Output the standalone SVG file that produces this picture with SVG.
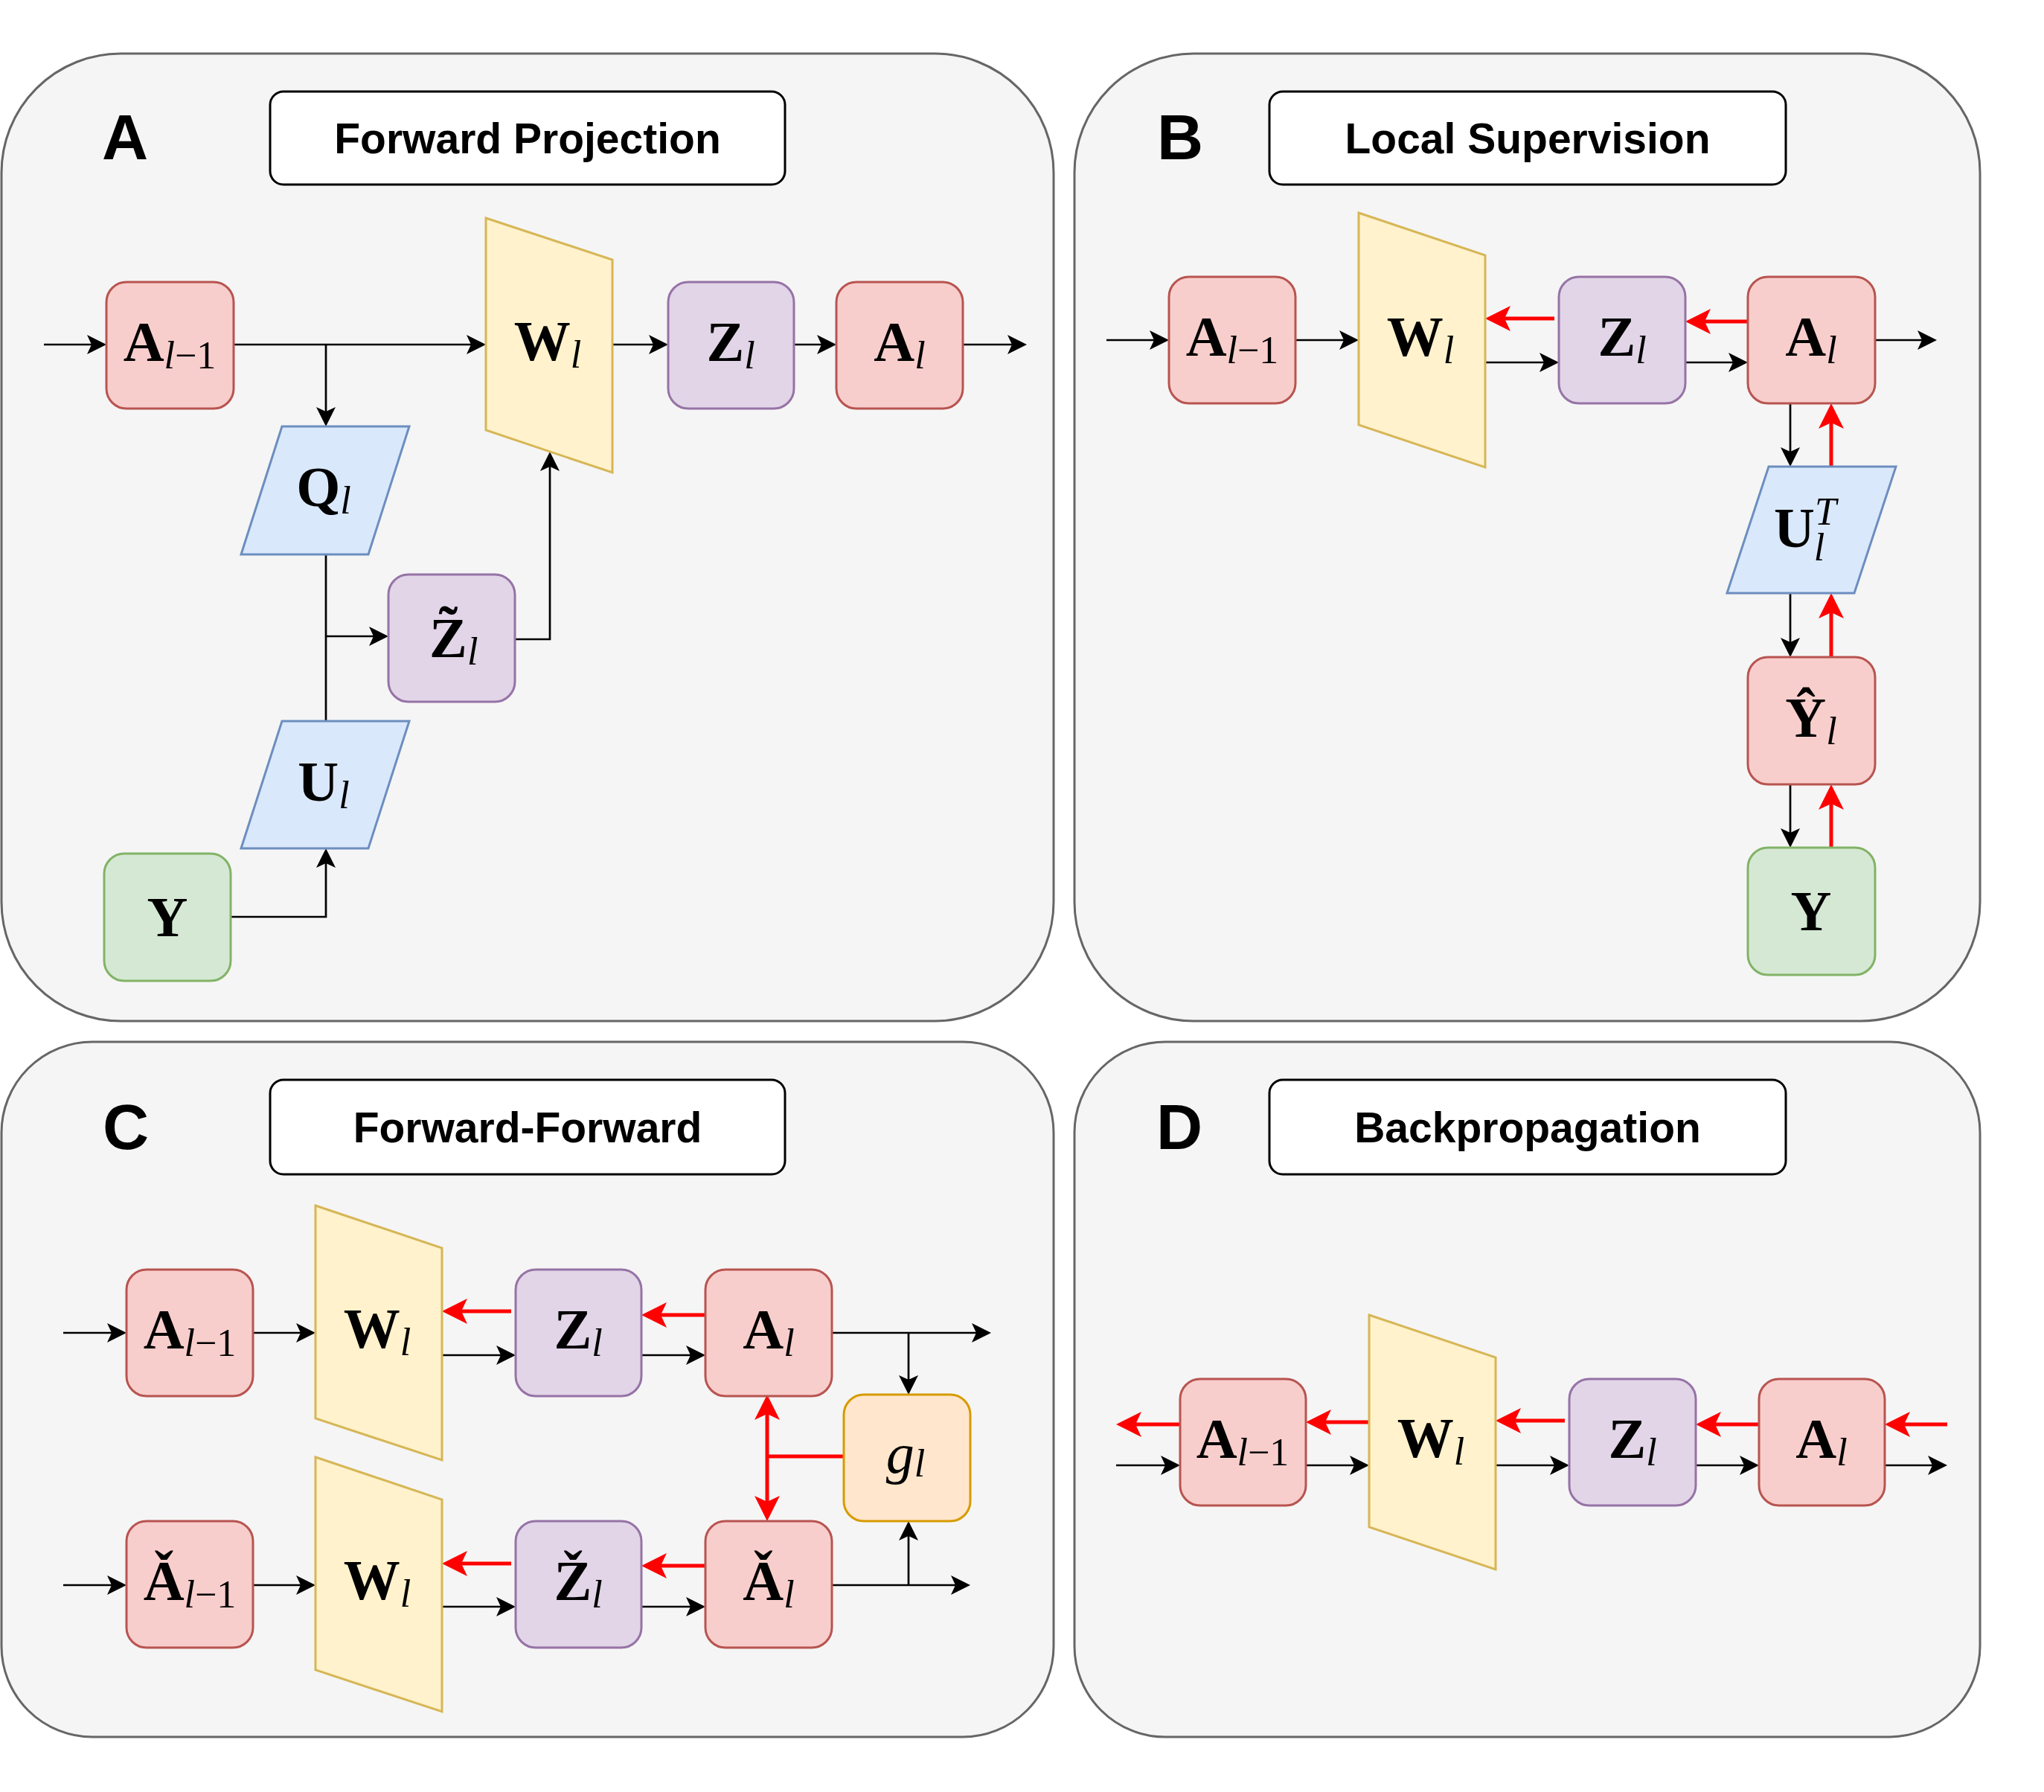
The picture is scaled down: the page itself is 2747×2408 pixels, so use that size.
<svg xmlns="http://www.w3.org/2000/svg" width="2747" height="2408" viewBox="0 0 2747 2408">
<style>
.panel{fill:#f5f5f5;stroke:#666666;stroke-width:3}
.title{fill:#ffffff;stroke:#000000;stroke-width:3}
.tt{font-family:"Liberation Sans",Arial,sans-serif;font-weight:bold;font-size:57px;text-anchor:middle;fill:#000}
.lab{font-family:"Liberation Sans",Arial,sans-serif;font-weight:bold;font-size:86px;text-anchor:middle;fill:#000}
.red{fill:#f8cecc;stroke:#b85450;stroke-width:3}
.pur{fill:#e1d5e7;stroke:#9673a6;stroke-width:3}
.grn{fill:#d5e8d4;stroke:#82b366;stroke-width:3}
.yel{fill:#fff2cc;stroke:#d6b656;stroke-width:3}
.blu{fill:#dae8fc;stroke:#6c8ebf;stroke-width:3}
.org{fill:#ffe6cc;stroke:#d79b00;stroke-width:3}
.m{font-family:"Liberation Serif","DejaVu Serif",serif;font-weight:bold;font-size:76px;text-anchor:middle;fill:#000}
.ms{font-family:"Liberation Serif","DejaVu Serif",serif;font-weight:bold;font-size:76px;fill:#000}
.s{font-style:italic;font-weight:normal;font-size:52px}
.r{font-style:normal;font-weight:normal;font-size:52px}
.it{font-family:"Liberation Serif","DejaVu Serif",serif;font-style:italic;font-size:76px;text-anchor:middle;fill:#000}
.b{fill:none;stroke:#000;stroke-width:2.7;marker-end:url(#ab)}
.bl{fill:none;stroke:#000;stroke-width:2.7}
.rd{fill:none;stroke:#ff0000;stroke-width:5;marker-end:url(#ar)}
.rl{fill:none;stroke:#ff0000;stroke-width:5}
</style>
<defs>
<marker id="ab" markerUnits="userSpaceOnUse" viewBox="-10 -20 40 40" refX="0" refY="0" markerWidth="40" markerHeight="40" orient="auto">
<path d="M0,0 L-6,-13 L20,0 L-6,13 Z" fill="#000"/>
</marker>
<marker id="ar" markerUnits="userSpaceOnUse" viewBox="-10 -20 40 40" refX="0" refY="0" markerWidth="40" markerHeight="40" orient="auto-start-reverse">
<path d="M0,0 L-8,-17 L26,0 L-8,17 Z" fill="#ff0000"/>
</marker>
</defs>

<!-- Panels -->
<g id="panel-A">
<rect class="panel" x="2" y="72" width="1414" height="1300" rx="160"/>
<text class="lab" x="168" y="214">A</text>
<rect class="title" x="363" y="123" width="692" height="125" rx="18"/>
<text class="tt" x="709" y="206">Forward Projection</text>
</g>
<g id="panel-B">
<rect class="panel" x="1444" y="72" width="1217" height="1300" rx="160"/>
<text class="lab" x="1586" y="214">B</text>
<rect class="title" x="1706" y="123" width="694" height="125" rx="18"/>
<text class="tt" x="2053" y="206">Local Supervision</text>
</g>
<g id="panel-C">
<rect class="panel" x="2" y="1400" width="1414" height="934" rx="122"/>
<text class="lab" x="169" y="1544">C</text>
<rect class="title" x="363" y="1451" width="692" height="127" rx="18"/>
<text class="tt" x="709" y="1535">Forward-Forward</text>
</g>
<g id="panel-D">
<rect class="panel" x="1444" y="1400" width="1217" height="934" rx="122"/>
<text class="lab" x="1585" y="1544">D</text>
<rect class="title" x="1706" y="1451" width="694" height="127" rx="18"/>
<text class="tt" x="2053" y="1535">Backpropagation</text>
</g>

<!-- Connectors -->
<g id="connectors">
<!-- A -->
<path class="b" d="M59,463 H123"/>
<path class="b" d="M314,463 H633"/>
<path class="b" d="M438,463 V553"/>
<path class="b" d="M823,463 H878"/>
<path class="b" d="M1067,463 H1104"/>
<path class="b" d="M1294,463 H1360"/>
<path class="bl" d="M438,745 V969"/>
<path class="b" d="M438,855 H502"/>
<path class="b" d="M692,859 H739 V627"/>
<path class="b" d="M310,1232 H438 V1160"/>
<!-- B -->
<path class="b" d="M1487,457 H1551"/>
<path class="b" d="M1741,457 H1806"/>
<path class="b" d="M1996,487 H2075"/>
<path class="b" d="M2265,487 H2329"/>
<path class="b" d="M2520,457 H2583"/>
<path class="rd" d="M2089,428 H2022"/>
<path class="rd" d="M2349,432 H2291"/>
<path class="b" d="M2406,542 V607"/>
<path class="rd" d="M2461,627 V568"/>
<path class="b" d="M2406,797 V863"/>
<path class="rd" d="M2461,883 V823"/>
<path class="b" d="M2406,1054 V1119"/>
<path class="rd" d="M2461,1139 V1080"/>
<!-- C -->
<path class="b" d="M85,1791 H150"/>
<path class="b" d="M340,1791 H404"/>
<path class="b" d="M594,1821 H673"/>
<path class="b" d="M862,1821 H928"/>
<path class="rd" d="M687,1762 H620"/>
<path class="rd" d="M948,1767 H888"/>
<path class="b" d="M1118,1791 H1312"/>
<path class="b" d="M1221,1791 V1854"/>
<path class="b" d="M85,2130 H150"/>
<path class="b" d="M340,2130 H404"/>
<path class="b" d="M594,2159 H673"/>
<path class="b" d="M862,2159 H928"/>
<path class="rd" d="M687,2101 H620"/>
<path class="rd" d="M948,2104 H888"/>
<path class="b" d="M1118,2130 H1284"/>
<path class="b" d="M1221,2130 V2064"/>
<path class="rl" d="M1134,1957 H1031"/>
<path class="rl" d="M1031,1900 V2018" style="marker-start:url(#ar);marker-end:url(#ar)"/>
<!-- D -->
<path class="b" d="M1500,1969 H1566"/>
<path class="b" d="M1755,1969 H1820"/>
<path class="b" d="M2010,1969 H2089"/>
<path class="b" d="M2279,1969 H2344"/>
<path class="b" d="M2533,1969 H2597"/>
<path class="rd" d="M2617,1914 H2559"/>
<path class="rd" d="M2364,1914 H2305"/>
<path class="rd" d="M2103,1909 H2036"/>
<path class="rd" d="M1840,1911 H1781"/>
<path class="rd" d="M1586,1914 H1526"/>
</g>

<!-- Panel A nodes -->
<g id="A-Alm1"><rect class="red" x="143" y="379" width="171" height="170" rx="27"/>
<text class="m" x="228" y="485">A<tspan class="s" dy="10">l</tspan><tspan class="r">−1</tspan></text></g>
<g id="A-W"><polygon class="yel" points="653,293 823,349 823,635 653,578"/>
<text class="m" x="736" y="484">W<tspan class="s" dy="10">l</tspan></text></g>
<g id="A-Z"><rect class="pur" x="898" y="379" width="169" height="170" rx="27"/>
<text class="m" x="982" y="485">Z<tspan class="s" dy="10">l</tspan></text></g>
<g id="A-Al"><rect class="red" x="1124" y="379" width="170" height="170" rx="27"/>
<text class="m" x="1209" y="485">A<tspan class="s" dy="10">l</tspan></text></g>
<g id="A-Q"><polygon class="blu" points="379,573 550,573 495,745 324,745"/>
<text class="m" x="435" y="680">Q<tspan class="s" dy="10">l</tspan></text></g>
<g id="A-Zt"><rect class="pur" x="522" y="772" width="170" height="171" rx="27"/>
<text class="ms" x="577" y="883">Z<tspan dx="-38" dy="-15">˜</tspan><tspan class="s" dx="13" dy="25">l</tspan></text></g>
<g id="A-U"><polygon class="blu" points="379,969 550,969 495,1140 324,1140"/>
<text class="m" x="435" y="1076">U<tspan class="s" dy="10">l</tspan></text></g>
<g id="A-Y"><rect class="grn" x="140" y="1147" width="170" height="171" rx="27"/>
<text class="m" x="225" y="1258">Y</text></g>

<!-- Panel B nodes -->
<g id="B-Alm1"><rect class="red" x="1571" y="372" width="170" height="170" rx="27"/>
<text class="m" x="1656" y="478">A<tspan class="s" dy="10">l</tspan><tspan class="r">−1</tspan></text></g>
<g id="B-W"><polygon class="yel" points="1826,286 1996,343 1996,628 1826,571"/>
<text class="m" x="1909" y="478">W<tspan class="s" dy="10">l</tspan></text></g>
<g id="B-Z"><rect class="pur" x="2095" y="372" width="170" height="170" rx="27"/>
<text class="m" x="2180" y="478">Z<tspan class="s" dy="10">l</tspan></text></g>
<g id="B-Al"><rect class="red" x="2349" y="372" width="171" height="170" rx="27"/>
<text class="m" x="2434" y="478">A<tspan class="s" dy="10">l</tspan></text></g>
<g id="B-UT"><polygon class="blu" points="2377,627 2548,627 2492,797 2321,797"/>
<text class="ms" x="2384" y="735">U<tspan class="s" dy="-30">T</tspan><tspan class="s" dx="-30" dy="48">l</tspan></text></g>
<g id="B-Yhat"><rect class="red" x="2349" y="883" width="171" height="171" rx="27"/>
<text class="m" x="2434" y="990">Ŷ<tspan class="s" dy="10">l</tspan></text></g>
<g id="B-Y"><rect class="grn" x="2349" y="1139" width="171" height="171" rx="27"/>
<text class="m" x="2434" y="1250">Y</text></g>

<!-- Panel C nodes -->
<g id="C-Alm1"><rect class="red" x="170" y="1706" width="170" height="170" rx="27"/>
<text class="m" x="255" y="1812">A<tspan class="s" dy="10">l</tspan><tspan class="r">−1</tspan></text></g>
<g id="C-W1"><polygon class="yel" points="424,1620 594,1677 594,1962 424,1906"/>
<text class="m" x="507" y="1811">W<tspan class="s" dy="10">l</tspan></text></g>
<g id="C-Z"><rect class="pur" x="693" y="1706" width="169" height="170" rx="27"/>
<text class="m" x="777" y="1812">Z<tspan class="s" dy="10">l</tspan></text></g>
<g id="C-Al"><rect class="red" x="948" y="1706" width="170" height="170" rx="27"/>
<text class="m" x="1033" y="1812">A<tspan class="s" dy="10">l</tspan></text></g>
<g id="C-g"><rect class="org" x="1134" y="1874" width="170" height="170" rx="27"/>
<text class="it" x="1217" y="1979">g<tspan class="s" dy="5">l</tspan></text></g>
<g id="C-Acm1"><rect class="red" x="170" y="2044" width="170" height="170" rx="27"/>
<text class="m" x="255" y="2150">Ǎ<tspan class="s" dy="10">l</tspan><tspan class="r">−1</tspan></text></g>
<g id="C-W2"><polygon class="yel" points="424,1958 594,2015 594,2300 424,2244"/>
<text class="m" x="507" y="2149">W<tspan class="s" dy="10">l</tspan></text></g>
<g id="C-Zc"><rect class="pur" x="693" y="2044" width="169" height="170" rx="27"/>
<text class="m" x="777" y="2150">Ž<tspan class="s" dy="10">l</tspan></text></g>
<g id="C-Acl"><rect class="red" x="948" y="2044" width="170" height="170" rx="27"/>
<text class="m" x="1033" y="2150">Ǎ<tspan class="s" dy="10">l</tspan></text></g>

<!-- Panel D nodes -->
<g id="D-Alm1"><rect class="red" x="1586" y="1853" width="169" height="170" rx="27"/>
<text class="m" x="1670" y="1959">A<tspan class="s" dy="10">l</tspan><tspan class="r">−1</tspan></text></g>
<g id="D-W"><polygon class="yel" points="1840,1767 2010,1824 2010,2109 1840,2052"/>
<text class="m" x="1923" y="1958">W<tspan class="s" dy="10">l</tspan></text></g>
<g id="D-Z"><rect class="pur" x="2109" y="1853" width="170" height="170" rx="27"/>
<text class="m" x="2194" y="1959">Z<tspan class="s" dy="10">l</tspan></text></g>
<g id="D-Al"><rect class="red" x="2364" y="1853" width="169" height="170" rx="27"/>
<text class="m" x="2448" y="1959">A<tspan class="s" dy="10">l</tspan></text></g>
</svg>
